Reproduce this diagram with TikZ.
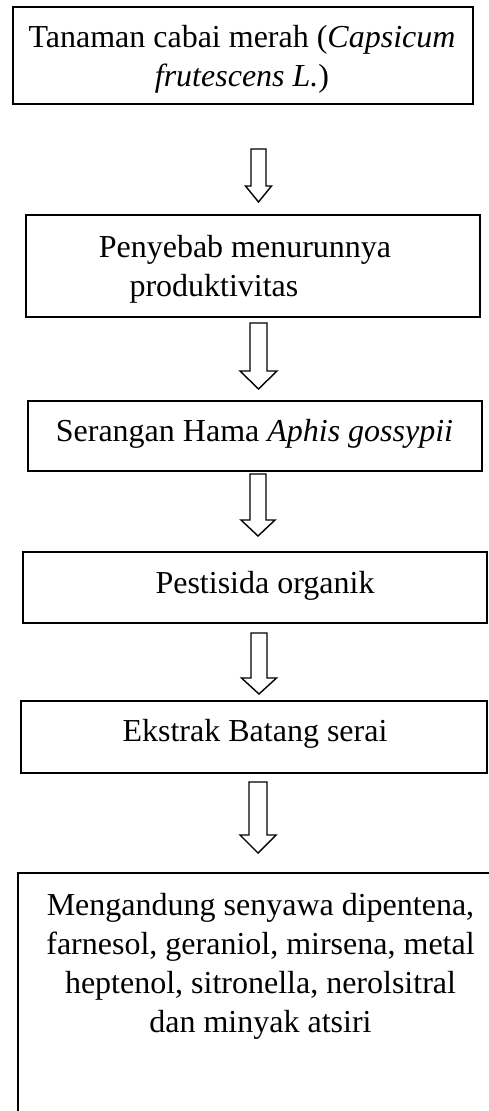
\documentclass[tikz,border=0pt]{standalone}
\usepackage{fontspec}
\setmainfont{Liberation Serif}
\usetikzlibrary{calc}
\tikzset{
  box/.style={draw=black, line width=2pt, rectangle, inner sep=0pt, fill=white},
  txt/.style={inner sep=0pt, align=center, anchor=north, font=\fontsize{32}{39}\selectfont},
  blockarr/.style={draw=black, line width=1.4pt, line join=miter, fill=white}
}
% #1 start coord, #2 tip coord, #3 shaft half width, #4 head half width, #5 head length
\newcommand\hollowarrow[5]{%
  \draw[blockarr] ($(#1)+(-#3,0)$) -- ($(#2)+(-#3,-#5)$) -- ($(#2)+(-#4,-#5)$) -- (#2)
    -- ($(#2)+(#4,-#5)$) -- ($(#2)+(#3,-#5)$) -- ($(#1)+(#3,0)$) -- cycle;}
\begin{document}
\begin{tikzpicture}[x=1pt,y=-1pt]
\useasboundingbox (0,0) rectangle (489,1111);
\clip (0,0) rectangle (489,1111);
\fill[white] (0,0) rectangle (489,1111);

% boxes
\node[box, minimum width=459.5pt, minimum height=96.5pt] (b1) at (242.75,55.25) {};
\node[box, minimum width=453.5pt, minimum height=102pt]  (b2) at (252.75,265.5) {};
\node[box, minimum width=453.5pt, minimum height=70pt]   (b3) at (254.75,436) {};
\node[box, minimum width=463.5pt, minimum height=70.5pt] (b4) at (254.75,587.25) {};
\node[box, minimum width=466pt, minimum height=72pt]     (b5) at (254,737) {};
\node[box, minimum width=486pt, minimum height=320pt]    (b6) at (261,1033) {};

% texts
\node[txt] (t1) at (242,20.4) {\strut Tanaman cabai merah (\textit{Capsicum}\\\strut\textit{frutescens L.})};
\node[txt] (t2) at (245,229.7) {\strut Penyebab menurunnya\\\strut\makebox[231pt][l]{produktivitas}};
\node[txt] (t3) at (254.5,414.4) {\strut Serangan Hama \textit{Aphis gossypii}};
\node[txt] (t4) at (265,565.7) {\strut Pestisida organik};
\node[txt] (t5) at (255,714.4) {\strut Ekstrak Batang serai};
\node[txt] (t6) at (260.5,887.7) {\strut Mengandung senyawa dipentena,\\\strut farnesol, geraniol, mirsena, metal\\\strut heptenol, sitronella, nerolsitral\\\strut dan minyak atsiri};

% arrow end points
\coordinate (a1s) at (258.5,149); \coordinate (a1e) at (258.5,202);
\coordinate (a2s) at (258.5,323); \coordinate (a2e) at (258.5,389);
\coordinate (a3s) at (258,474);   \coordinate (a3e) at (258,536);
\coordinate (a4s) at (259,633);   \coordinate (a4e) at (259,694);
\coordinate (a5s) at (258,782);   \coordinate (a5e) at (258,853);

\hollowarrow{a1s}{a1e}{7.5}{13}{16}
\hollowarrow{a2s}{a2e}{8.5}{18.5}{18}
\hollowarrow{a3s}{a3e}{8}{17}{16}
\hollowarrow{a4s}{a4e}{8}{17.5}{16}
\hollowarrow{a5s}{a5e}{9}{18}{18}
\end{tikzpicture}
\end{document}
